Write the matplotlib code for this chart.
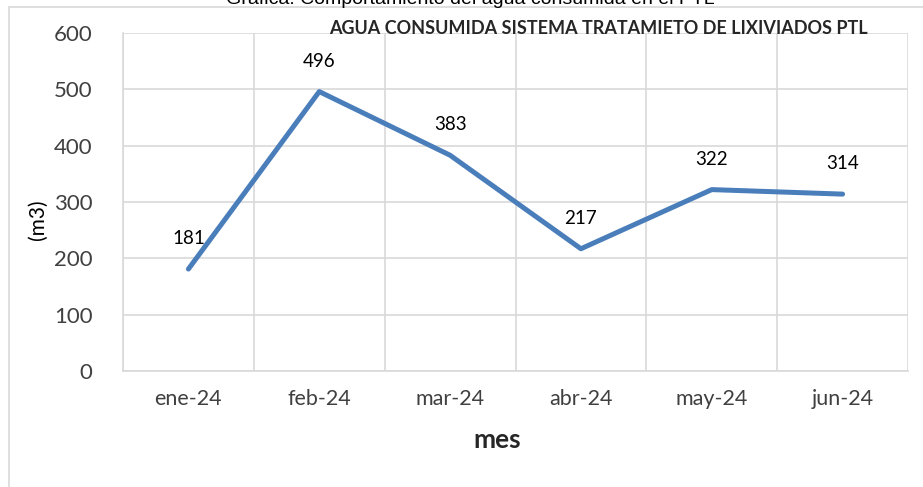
import matplotlib
matplotlib.use("Agg")
import matplotlib.pyplot as plt
from matplotlib.patches import Rectangle

months = ["ene-24", "feb-24", "mar-24", "abr-24", "may-24", "jun-24"]
consumo = [181, 496, 383, 217, 322, 314]
yticks = [0, 100, 200, 300, 400, 500, 600]

W, H = 923, 487
fig = plt.figure(figsize=(W / 100, H / 100), dpi=100)
# plot area in pixels: left 123, right 908, top 33, bottom 371
L, R, T, B = 123, 908, 33, 371
ax = fig.add_axes([L / W, 1 - B / H, (R - L) / W, (B - T) / H])

# outer chart border
fig.patches.append(Rectangle((9 / W, -0.1), 1.2, 1 - 7 / H + 0.1, transform=fig.transFigure,
                             fill=False, edgecolor="#D9D9D9", linewidth=1.2))

x = list(range(len(months)))
ax.plot(x, consumo, color="#4A7EBB", linewidth=3.6, solid_capstyle="round", zorder=3)
for xi, v in zip(x, consumo):
    ax.annotate(str(v), (xi, v), xytext=(0, 22), textcoords="offset points",
                ha="center", va="center", fontsize=13.5, family="Lato", color="#000000")

ax.set_xlim(-0.5, len(months) - 0.5)
ax.set_ylim(0, 600)
ax.set_yticks(yticks)
ax.set_yticklabels([str(t) for t in yticks], family="Lato", fontsize=16, color="#404040")
ax.set_xticks(x)
ax.set_xticklabels(months, family="Lato", fontsize=15.5, color="#404040")
ax.set_xticks([i - 0.5 for i in range(len(months) + 1)], minor=True)
ax.tick_params(axis="both", which="both", length=0)
ax.tick_params(axis="y", pad=22)
ax.tick_params(axis="x", pad=13)
ax.grid(True, axis="y", which="major", color="#D9D9D9", linewidth=1.2)
ax.grid(True, axis="x", which="minor", color="#D9D9D9", linewidth=1.2)
ax.grid(False, axis="x", which="major")
for s in ["top", "right"]:
    ax.spines[s].set_visible(False)
for s in ["left", "bottom"]:
    ax.spines[s].set_color("#D9D9D9")
    ax.spines[s].set_linewidth(1.2)
ax.set_axisbelow(True)

ax.set_ylabel("(m3)", family="Lato", fontsize=15, color="#000000")
ax.yaxis.set_label_coords((38 - L) / (R - L), (B - 220) / (B - T))
ax.set_xlabel("mes", family="Lato", fontsize=19, fontweight="bold", color="#262626")
ax.xaxis.set_label_coords((497 - L) / (R - L), -(440 - B) / (B - T))
ax.xaxis.label.set_va("center")
ax.yaxis.label.set_va("center")

fig.text(598 / W, 1 - 28 / H, "AGUA CONSUMIDA SISTEMA TRATAMIETO DE LIXIVIADOS PTL",
         ha="center", va="center", fontsize=13, fontweight="bold", family="Lato", color="#262626")
fig.text(470 / W, 1 + 1 / H, "Grafica: Comportamiento del agua consumida en el PTL",
         ha="center", va="center", fontsize=14, family="Liberation Sans", color="#000000")

fig.savefig("out.png", dpi=100)
